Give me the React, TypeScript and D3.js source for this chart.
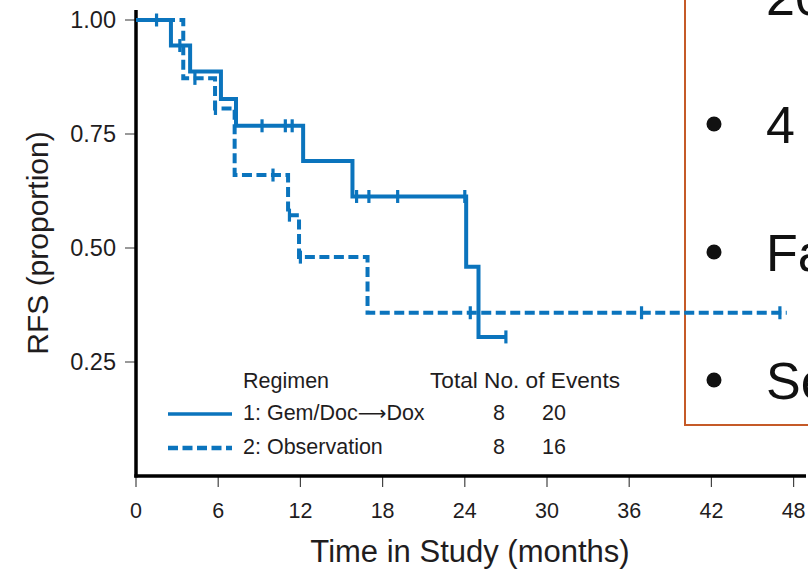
import React from "react";
import * as d3 from "d3";

// Kaplan-Meier steps (months, proportion)
const gemTimes = [0, 2.55, 3.95, 6.2, 7.3, 12.2, 15.8, 24.1, 25.0, 27.0];
const gemSurv = [1.0, 0.944, 0.887, 0.827, 0.768, 0.691, 0.613, 0.459, 0.305, 0.305];
const gemCensor = [1.5, 3.2, 9.2, 10.9, 11.4, 16.1, 17.0, 19.1, 24.0, 27.0];

const obsTimes = [0, 3.45, 5.77, 7.2, 11.1, 11.9, 16.9, 47.5];
const obsSurv = [1.0, 0.872, 0.806, 0.66, 0.572, 0.48, 0.358, 0.358];
const obsCensor = [4.3, 5.8, 10.0, 11.2, 12.0, 24.4, 36.9, 47.0];

const xTicks = [0, 6, 12, 18, 24, 30, 36, 42, 48];
const yTicks = [0.25, 0.5, 0.75, 1.0];

const legendRows = [
  { pre: "1: Gem/Doc", arrow: "\u27F6", post: "Dox", total: "8", events: "20", dashed: false },
  { pre: "2: Observation", arrow: "", post: "", total: "8", events: "16", dashed: true },
];

const slideLines = ["20", "4", "Fa", "Se"];

const BLUE = "#0b74bd";
const INK = "#1f1d1e";
const FONT = "'Liberation Sans', Arial, Helvetica, sans-serif";
const DASH = "10,4.5";

function stepValue(times: number[], surv: number[], t: number) {
  const i = d3.bisectRight(times, t) - 1;
  return surv[Math.max(0, Math.min(i, surv.length - 1))];
}

export default function App() {
  const width = 808;
  const height = 573;

  const x = d3.scaleLinear().domain([0, 48]).range([136, 793.6]);
  const y = d3.scaleLinear().domain([0, 1]).range([476, 20]);

  const line = d3
    .line<[number, number]>()
    .x((d) => x(d[0]))
    .y((d) => y(d[1]))
    .curve(d3.curveStepAfter);

  const gemPts = gemTimes.map((t, i) => [t, gemSurv[i]] as [number, number]);
  const obsPts = obsTimes.map((t, i) => [t, obsSurv[i]] as [number, number]);

  const censorMarks = (times: number[], surv: number[], cens: number[], key: string) =>
    cens.map((t, i) => {
      const cx = x(t);
      const cy = y(stepValue(times, surv, t));
      return (
        <line
          key={key + i}
          x1={cx}
          x2={cx}
          y1={cy - 6.5}
          y2={cy + 6.5}
          stroke={BLUE}
          strokeWidth={3.2}
        />
      );
    });

  return (
    <svg
      width={width}
      height={height}
      style={{ position: "absolute", left: 0, top: 0, background: "#fff" }}
      fontFamily={FONT}
    >
      <rect width={width} height={height} fill="#fff" />

      {/* slide box overlaid on the right */}
      <rect x={685} y={-10} width={200} height={435} fill="none" stroke="#c55a28" strokeWidth={2} />
      {slideLines.map((s, i) => (
        <g key={s}>
          {i > 0 && <circle cx={714} cy={124 + (i - 1) * 128} r={7.5} fill="#111" />}
          <text x={766} y={15 + i * 128} fontSize={52} fill="#111">
            {s}
          </text>
        </g>
      ))}

      {/* y axis */}
      {yTicks.map((t) => (
        <g key={"y" + t}>
          <line x1={125} x2={136} y1={y(t)} y2={y(t)} stroke="#555" strokeWidth={1.2} />
          <text
            x={116}
            y={y(t)}
            dy="0.36em"
            textAnchor="end"
            fontSize={23.5}
            fill={INK}
          >
            {d3.format(".2f")(t)}
          </text>
        </g>
      ))}
      <line x1={136} x2={136} y1={10} y2={477.5} stroke="#000" strokeWidth={3.5} />
      <text
        transform="translate(48,243) rotate(-90)"
        textAnchor="middle"
        fontSize={30}
        fill={INK}
      >
        RFS (proportion)
      </text>

      {/* x axis */}
      {xTicks.map((t) => (
        <g key={"x" + t}>
          <line x1={x(t)} x2={x(t)} y1={476} y2={487} stroke="#444" strokeWidth={1.2} />
          <text x={x(t)} y={518} textAnchor="middle" fontSize={21.5} fill={INK}>
            {t}
          </text>
        </g>
      ))}
      <line x1={134.3} x2={806} y1={476} y2={476} stroke="#000" strokeWidth={3.5} />
      <text x={470} y={562} textAnchor="middle" fontSize={31} fill={INK}>
        Time in Study (months)
      </text>

      {/* curves */}
      <path d={line(obsPts) ?? ""} fill="none" stroke={BLUE} strokeWidth={4} strokeDasharray={DASH} />
      {censorMarks(obsTimes, obsSurv, obsCensor, "o")}
      <path d={line(gemPts) ?? ""} fill="none" stroke={BLUE} strokeWidth={4} />
      {censorMarks(gemTimes, gemSurv, gemCensor, "g")}

      {/* legend */}
      <g fontSize={21.5} fill={INK}>
        <text x={243} y={388}>Regimen</text>
        <text x={430} y={388} textLength={190} lengthAdjust="spacingAndGlyphs">Total No. of Events</text>
        {legendRows.map((r, i) => {
          const ly = 420 + i * 34;
          return (
            <g key={r.pre}>
              <line
                x1={168}
                x2={232}
                y1={ly - 6}
                y2={ly - 6}
                stroke={BLUE}
                strokeWidth={r.dashed ? 4.5 : 3.5}
                strokeDasharray={r.dashed ? "10,4.5" : undefined}
              />
              <text x={243} y={ly}>
                {r.pre}
                {r.arrow && (
                  <tspan fontFamily="'DejaVu Sans', sans-serif" fontSize={20}>
                    {r.arrow}
                  </tspan>
                )}
                {r.post}
              </text>
              <text x={499} y={ly} textAnchor="middle">{r.total}</text>
              <text x={554} y={ly} textAnchor="middle">{r.events}</text>
            </g>
          );
        })}
      </g>
    </svg>
  );
}
